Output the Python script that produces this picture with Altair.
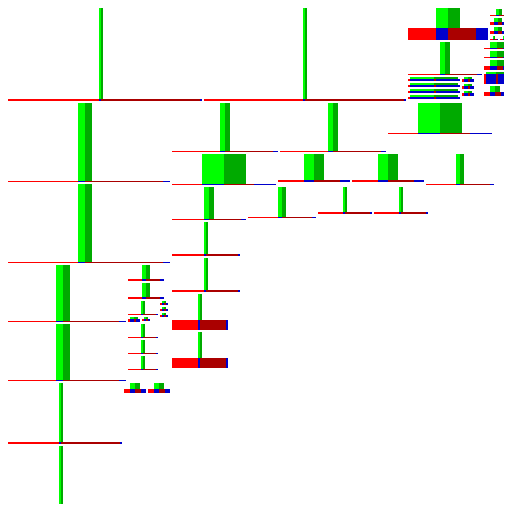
import altair as alt
import pandas as pd

# glyphs: left edge, top edge, arm length, stem width, base thickness
glyph_left = [0, 204, 408, 408, 408, 408, 408, 408, 462, 462, 462,
              490, 490, 490, 490, 490, 500, 484, 484, 484, 484, 484,
              0, 0, 0, 0, 0, 0,
              128, 128, 128, 160, 160, 160, 128, 142, 128, 128, 128, 124, 148,
              172, 280, 388, 172, 278, 352, 426, 172, 248, 318, 374,
              172, 172, 172, 172]
glyph_top = [0, 0, 0, 42, 77, 83, 89, 95, 77, 84, 91,
             0, 9, 18, 27, 36, 36, 42, 51, 60, 72, 86,
             103, 184, 265, 324, 383, 446,
             265, 283, 301, 301, 307, 313, 317, 317, 324, 340, 356, 383, 383,
             103, 103, 103, 154, 154, 154, 154, 187, 187, 187, 187,
             222, 258, 294, 332]
arm = [99, 99, 28, 32, 2, 2, 2, 2, 2, 2, 2,
       6, 6, 4, 4, 3, 3, 6, 6, 6, 2, 6,
       78, 78, 56, 56, 59, 59,
       14, 14, 13, 2, 2, 2, 2, 2, 13, 13, 13, 6, 6,
       48, 48, 30, 30, 26, 26, 30, 32, 30, 25, 25,
       32, 32, 26, 26]
stem = [2, 2, 12, 5, 24, 24, 24, 24, 4, 4, 4,
        3, 3, 4, 4, 1, 1, 7, 7, 7, 10, 5,
        7, 7, 7, 7, 2, 2,
        4, 4, 2, 2, 2, 2, 4, 2, 2, 2, 2, 5, 5,
        5, 5, 22, 22, 10, 10, 4, 5, 4, 2, 2,
        2, 2, 2, 2]
base = [2, 2, 12, 1, 2, 2, 2, 2, 3, 3, 3,
        1, 1, 3, 3, 1, 1, 1, 1, 4, 10, 4,
        1, 1, 1, 1, 2, 2,
        2, 2, 1, 2, 2, 2, 3, 2, 1, 1, 1, 4, 4,
        1, 1, 1, 1, 2, 2, 1, 1, 1, 2, 2,
        2, 2, 10, 10]

parts = ["left", "joint", "right", "end", "stem_a", "stem_b"]
colors = ["#ff0000", "#0000cc", "#aa0000", "#0000cc", "#00ff00", "#00aa00"]

rows = []
for x0, y0, a, w, t in zip(glyph_left, glyph_top, arm, stem, base):
    yb = y0 + a
    rows.append(dict(part="left", x=x0, x2=x0 + a, y=yb, y2=yb + t))
    rows.append(dict(part="joint", x=x0 + a, x2=x0 + a + w, y=yb, y2=yb + t))
    rows.append(dict(part="right", x=x0 + a + w, x2=x0 + 2 * a + w, y=yb, y2=yb + t))
    rows.append(dict(part="end", x=x0 + 2 * a + w, x2=x0 + 2 * a + 2 * w, y=yb, y2=yb + t))
    rows.append(dict(part="stem_a", x=x0 + a, x2=x0 + a + w, y=y0, y2=yb))
    rows.append(dict(part="stem_b", x=x0 + a + w, x2=x0 + a + 2 * w, y=y0, y2=yb))
df = pd.DataFrame(rows)

# the page keeps an 8px margin on every side, so the visible window is 8..504
chart = alt.Chart(df).mark_rect(clip=True).encode(
    x=alt.X('x:Q', scale=alt.Scale(domain=[8, 504], zero=False, nice=False), axis=None),
    x2='x2:Q',
    y=alt.Y('y:Q', scale=alt.Scale(domain=[8, 504], zero=False, nice=False, reverse=True), axis=None),
    y2='y2:Q',
    color=alt.Color('part:N', scale=alt.Scale(domain=parts, range=colors), legend=None)
).properties(
    width=496,
    height=496,
    padding=0,
    autosize=alt.AutoSizeParams(type="none")
).configure_view(
    strokeWidth=0
)

chart.save("out.html", embed_options={"renderer": "svg", "actions": False})
